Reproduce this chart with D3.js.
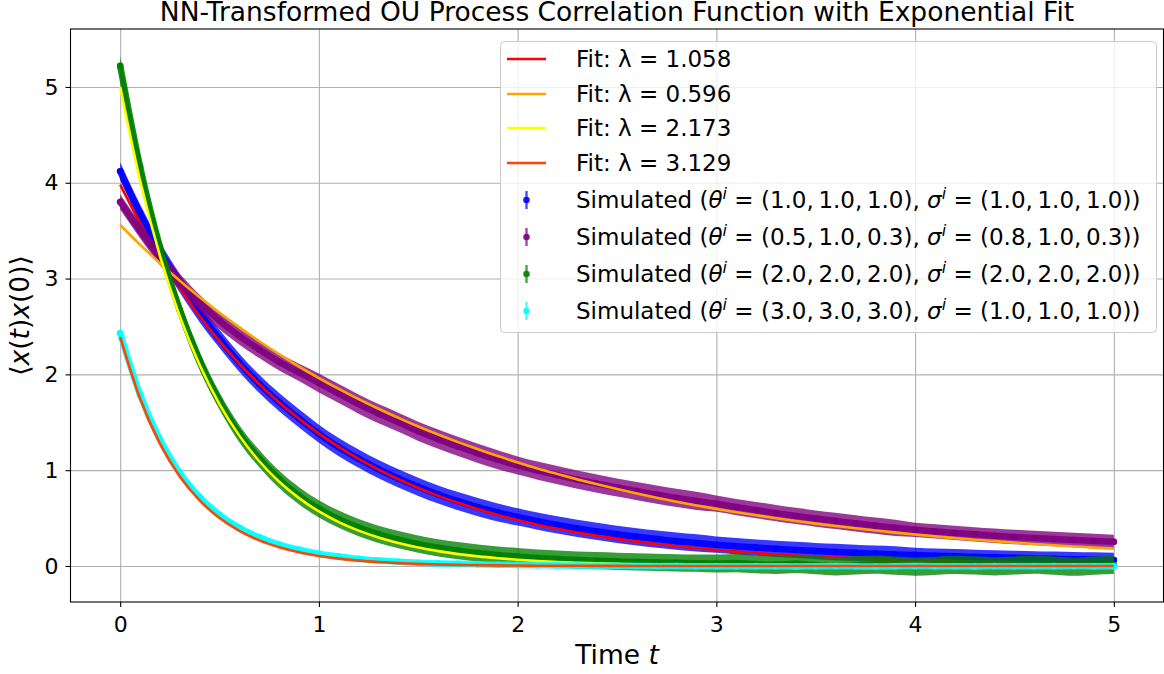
<!DOCTYPE html>
<html>
<head>
<meta charset="utf-8">
<script src="https://cdn.jsdelivr.net/npm/d3@7"></script>
<style>
  body { margin: 0; background: #fff; }
  svg { display: block; font-family: 'DejaVu Sans', sans-serif; }
</style>
</head>
<body>
<svg class="chart" width="1164" height="674"></svg>
<script>
// time grid (t)
const timeValues = [0, 0.1, 0.2, 0.3, 0.4, 0.5, 0.6, 0.7, 0.8, 0.9, 1.0, 1.1, 1.2, 1.3, 1.4, 1.5, 1.6, 1.7, 1.8, 1.9,
  2.0, 2.1, 2.2, 2.3, 2.4, 2.5, 2.6, 2.7, 2.8, 2.9, 3.0, 3.1, 3.2, 3.3, 3.4, 3.5, 3.6, 3.7, 3.8, 3.9,
  4.0, 4.1, 4.2, 4.3, 4.4, 4.5, 4.6, 4.7, 4.8, 4.9, 5.0];

// simulated correlation values
const blueSim = [4.12, 3.68, 3.29, 2.95, 2.64, 2.37, 2.12, 1.90, 1.71, 1.54, 1.38, 1.24, 1.12, 1.01, 0.914, 0.826, 0.746, 0.676, 0.614, 0.558,
  0.512, 0.468, 0.428, 0.392, 0.360, 0.331, 0.305, 0.281, 0.259, 0.240, 0.222, 0.206, 0.192, 0.179, 0.167, 0.156, 0.146, 0.137, 0.129, 0.121,
  0.114, 0.107, 0.101, 0.095, 0.090, 0.085, 0.080, 0.075, 0.071, 0.067, 0.063];
const purpleSim = [3.80, 3.50, 3.22, 2.97, 2.75, 2.56, 2.40, 2.26, 2.13, 2.02, 1.91, 1.80, 1.69, 1.59, 1.50, 1.405, 1.324, 1.248, 1.175, 1.109,
  1.049, 0.996, 0.948, 0.902, 0.859, 0.819, 0.781, 0.745, 0.711, 0.679, 0.650, 0.615, 0.583, 0.552, 0.522, 0.495, 0.470, 0.445, 0.421, 0.398,
  0.377, 0.361, 0.345, 0.330, 0.316, 0.303, 0.292, 0.281, 0.271, 0.261, 0.252];
const greenSim = [5.22, 4.17, 3.33, 2.67, 2.14, 1.72, 1.38, 1.12, 0.904, 0.733, 0.597, 0.488, 0.401, 0.330, 0.274, 0.228, 0.190, 0.159, 0.135, 0.114,
  0.098, 0.083, 0.072, 0.062, 0.055, 0.048, 0.042, 0.037, 0.033, 0.029, 0.026, 0.030, 0.018, 0.012, 0.022, 0.008, -0.004, 0.006, 0.015, 0.004,
  -0.006, 0.002, 0.012, 0.006, -0.004, 0.005, 0.014, 0.003, -0.008, 0.004, 0.010];
const cyanSim = [2.43, 1.79, 1.32, 0.973, 0.721, 0.535, 0.399, 0.299, 0.224, 0.169, 0.128, 0.098, 0.074, 0.057, 0.044, 0.034, 0.027, 0.022, 0.017, 0.014,
  0.011, 0.008, 0.006, 0.004, 0.002, 0.001, 0.000, -0.002, -0.001, -0.003, -0.002, -0.004, -0.002, -0.003, -0.005, -0.003, -0.002, -0.004, -0.006, -0.003,
  -0.002, -0.004, -0.003, -0.005, -0.002, -0.003, -0.004, -0.002, -0.003, -0.004, -0.002];

// error bar half-lengths
const blueErr = [0.095, 0.095, 0.095, 0.095, 0.095, 0.095, 0.095, 0.095, 0.095, 0.095, 0.095, 0.095, 0.095, 0.095, 0.095, 0.095, 0.095, 0.095, 0.095, 0.095,
  0.09, 0.09, 0.09, 0.09, 0.09, 0.09, 0.09, 0.09, 0.09, 0.09, 0.085, 0.085, 0.085, 0.085, 0.085, 0.085, 0.085, 0.085, 0.085, 0.085,
  0.075, 0.075, 0.075, 0.075, 0.075, 0.075, 0.075, 0.075, 0.075, 0.075, 0.075];
const purpleErr = [0.08, 0.08, 0.08, 0.08, 0.08, 0.09, 0.09, 0.09, 0.09, 0.09, 0.1, 0.1, 0.1, 0.1, 0.1, 0.1, 0.1, 0.1, 0.1, 0.1,
  0.095, 0.095, 0.095, 0.095, 0.095, 0.095, 0.095, 0.095, 0.095, 0.095, 0.085, 0.085, 0.085, 0.085, 0.085, 0.085, 0.085, 0.085, 0.085, 0.085,
  0.075, 0.075, 0.075, 0.075, 0.075, 0.075, 0.075, 0.075, 0.075, 0.075, 0.075];
const greenErr = [0.1, 0.1, 0.1, 0.1, 0.1, 0.09, 0.09, 0.09, 0.09, 0.09, 0.09, 0.09, 0.09, 0.09, 0.09, 0.09, 0.09, 0.09, 0.09, 0.09,
  0.09, 0.09, 0.09, 0.09, 0.09, 0.09, 0.09, 0.09, 0.09, 0.09, 0.095, 0.095, 0.095, 0.095, 0.095, 0.095, 0.095, 0.095, 0.095, 0.095,
  0.095, 0.095, 0.095, 0.095, 0.095, 0.095, 0.095, 0.095, 0.095, 0.095, 0.095];
const cyanErr = [0.03, 0.025, 0.025, 0.025, 0.025, 0.02, 0.02, 0.02, 0.02, 0.02, 0.015, 0.015, 0.015, 0.015, 0.015, 0.015, 0.015, 0.015, 0.015, 0.015,
  0.015, 0.015, 0.015, 0.015, 0.015, 0.015, 0.015, 0.015, 0.015, 0.015, 0.015, 0.015, 0.015, 0.015, 0.015, 0.015, 0.015, 0.015, 0.015, 0.015,
  0.015, 0.015, 0.015, 0.015, 0.015, 0.015, 0.015, 0.015, 0.015, 0.015, 0.015];

// exponential fit curves
const redFit = [3.980, 3.580, 3.221, 2.897, 2.606, 2.345, 2.109, 1.898, 1.707, 1.536, 1.381, 1.243, 1.118, 1.006, 0.905, 0.814, 0.732, 0.659, 0.593, 0.533,
  0.480, 0.431, 0.388, 0.349, 0.314, 0.283, 0.254, 0.229, 0.206, 0.185, 0.166, 0.150, 0.135, 0.121, 0.109, 0.098, 0.088, 0.079, 0.071, 0.064,
  0.058, 0.052, 0.047, 0.042, 0.038, 0.034, 0.031, 0.028, 0.025, 0.022, 0.020];
const orangeFit = [3.560, 3.354, 3.160, 2.977, 2.805, 2.643, 2.490, 2.346, 2.210, 2.082, 1.962, 1.848, 1.741, 1.641, 1.546, 1.456, 1.372, 1.293, 1.218, 1.147,
  1.081, 1.018, 0.960, 0.904, 0.852, 0.803, 0.756, 0.712, 0.671, 0.632, 0.596, 0.561, 0.529, 0.498, 0.469, 0.442, 0.417, 0.393, 0.370, 0.348,
  0.328, 0.309, 0.291, 0.274, 0.259, 0.244, 0.230, 0.216, 0.204, 0.192, 0.181];
const yellowFit = [5.000, 4.024, 3.238, 2.605, 2.097, 1.687, 1.358, 1.093, 0.879, 0.708, 0.569, 0.458, 0.369, 0.297, 0.239, 0.192, 0.155, 0.124, 0.100, 0.081,
  0.065, 0.052, 0.042, 0.034, 0.027, 0.022, 0.018, 0.014, 0.011, 0.009, 0.007, 0.006, 0.005, 0.004, 0.003, 0.002, 0.002, 0.002, 0.001, 0.001,
  0.001, 0.001, 0.001, 0, 0, 0, 0, 0, 0, 0, 0];
const orangeRedFit = [2.390, 1.748, 1.278, 0.935, 0.684, 0.500, 0.366, 0.267, 0.196, 0.143, 0.105, 0.077, 0.056, 0.041, 0.030, 0.022, 0.016, 0.012, 0.009, 0.006,
  0.005, 0.003, 0.003, 0.002, 0.001, 0.001, 0, 0, 0, 0, 0, 0, 0, 0, 0, 0, 0, 0, 0, 0,
  0, 0, 0, 0, 0, 0, 0, 0, 0, 0, 0];

const fitLambdas = ['1.058', '0.596', '2.173', '3.129'];
const thetaLabels = ['(1.0,\u20091.0,\u20091.0)', '(0.5,\u20091.0,\u20090.3)', '(2.0,\u20092.0,\u20092.0)', '(3.0,\u20093.0,\u20093.0)'];
const sigmaLabels = ['(1.0,\u20091.0,\u20091.0)', '(0.8,\u20091.0,\u20090.3)', '(2.0,\u20092.0,\u20092.0)', '(1.0,\u20091.0,\u20091.0)'];

const xTicks = [0, 1, 2, 3, 4, 5];
const yTicks = [0, 1, 2, 3, 4, 5];

const simColors = ['#0000ff', '#800080', '#008000', '#00ffff'];
const fitColors = ['#ff0000', '#ffa500', '#ffff00', '#ff4500'];

const simSeries = [blueSim, purpleSim, greenSim, cyanSim];
const errSeries = [blueErr, purpleErr, greenErr, cyanErr];
const fitSeries = [redFit, orangeFit, yellowFit, orangeRedFit];

const svg = d3.select('.chart');
const margin = { left: 70.5, top: 29, right: 0.5, bottom: 72 };
const width = +svg.attr('width') - margin.left - margin.right;
const height = +svg.attr('height') - margin.top - margin.bottom;

const x = d3.scaleLinear().domain([-0.25, 5.25]).range([0, width]);
const y = d3.scaleLinear().domain([-0.376, 5.605]).range([height, 0]);

const g = svg.append('g')
  .attr('transform', `translate(${margin.left},${margin.top})`);

// grid
const xGrid = g.append('g')
  .attr('transform', `translate(0,${height})`)
  .call(d3.axisBottom(x).tickValues(xTicks).tickSize(-height).tickFormat(''));
xGrid.select('.domain').remove();
xGrid.selectAll('line').attr('stroke', '#b0b0b0').attr('stroke-width', 1.1);

const yGrid = g.append('g')
  .call(d3.axisLeft(y).tickValues(yTicks).tickSize(-width).tickFormat(''));
yGrid.select('.domain').remove();
yGrid.selectAll('line').attr('stroke', '#b0b0b0').attr('stroke-width', 1.1);

const plot = g.append('g');

// each simulated series with its fit on top
simSeries.forEach((values, i) => {
  const pts = timeValues.map((t, k) => ({ t, v: values[k], e: errSeries[i][k] }));
  const color = simColors[i];

  const band = d3.area()
    .x(d => x(d.t))
    .y0(d => y(d.v - d.e))
    .y1(d => y(d.v + d.e))
    .curve(d3.curveMonotoneX);

  plot.append('path')
    .datum(pts)
    .attr('d', band)
    .attr('fill', color)
    .attr('opacity', 0.78);

  plot.append('path')
    .datum(pts)
    .attr('d', d3.line().x(d => x(d.t)).y(d => y(d.v)).curve(d3.curveMonotoneX))
    .attr('fill', 'none')
    .attr('stroke', color)
    .attr('stroke-width', 6.5)
    .attr('stroke-linecap', 'round')
    .attr('opacity', 0.9);

  plot.selectAll(null)
    .data(pts)
    .enter()
    .append('circle')
    .attr('cx', d => x(d.t))
    .attr('cy', d => y(d.v))
    .attr('r', 3.3)
    .attr('fill', color)
    .attr('opacity', 0.9);

  plot.append('path')
    .datum(timeValues.map((t, k) => ({ t, v: fitSeries[i][k] })))
    .attr('d', d3.line().x(d => x(d.t)).y(d => y(d.v)).curve(d3.curveMonotoneX))
    .attr('fill', 'none')
    .attr('stroke', fitColors[i])
    .attr('stroke-width', 2.6);
});

// axes
const xAxisG = g.append('g')
  .attr('transform', `translate(0,${height})`)
  .call(d3.axisBottom(x).tickValues(xTicks).tickFormat(d3.format('d')).tickSize(5).tickPadding(9));
xAxisG.select('.domain').remove();

const yAxisG = g.append('g')
  .call(d3.axisLeft(y).tickValues(yTicks).tickFormat(d3.format('d')).tickSize(5).tickPadding(7));
yAxisG.select('.domain').remove();

[xAxisG, yAxisG].forEach(a => {
  a.selectAll('line').attr('stroke', '#000').attr('stroke-width', 1.1);
  a.selectAll('text')
    .attr('fill', '#000')
    .style('font-family', 'DejaVu Sans')
    .style('font-size', '22px');
});

g.append('rect')
  .attr('width', width)
  .attr('height', height)
  .attr('fill', 'none')
  .attr('stroke', '#000')
  .attr('stroke-width', 1.1);

// title and labels
svg.append('text')
  .attr('x', margin.left + width / 2)
  .attr('y', 21)
  .attr('text-anchor', 'middle')
  .style('font-size', '26.5px')
  .text('NN-Transformed OU Process Correlation Function with Exponential Fit');

const xLabel = svg.append('text')
  .attr('x', margin.left + width / 2)
  .attr('y', 664)
  .attr('text-anchor', 'middle')
  .style('font-size', '26.5px');
xLabel.append('tspan').text('Time ');
xLabel.append('tspan').style('font-style', 'italic').text('t');

const yLabel = svg.append('text')
  .attr('transform', `translate(29,${margin.top + height / 2}) rotate(-90)`)
  .attr('text-anchor', 'middle')
  .style('font-size', '26.5px');
[['⟨', false], ['x', true], ['(', false], ['t', true], [')', false], ['x', true], ['(0)', false], ['⟩', false]]
  .forEach(([s, it]) => yLabel.append('tspan').style('font-style', it ? 'italic' : 'normal').text(s));

// legend
const legend = svg.append('g').style('font-size', '23px');
legend.append('rect')
  .attr('x', 500.5).attr('y', 41.5)
  .attr('width', 656).attr('height', 291)
  .attr('rx', 4)
  .attr('fill', '#fff').attr('fill-opacity', 0.8)
  .attr('stroke', '#cccccc');

const fitRowY = [59, 94, 128, 163];
const simRowY = [200, 237, 274, 311];

fitLambdas.forEach((lam, i) => {
  const cy = fitRowY[i];
  legend.append('line')
    .attr('x1', 507).attr('x2', 546)
    .attr('y1', cy).attr('y2', cy)
    .attr('stroke', fitColors[i]).attr('stroke-width', 2.6);
  legend.append('text')
    .attr('x', 576).attr('y', cy + 8)
    .text(`Fit: λ = ${lam}`);
});

simColors.forEach((color, i) => {
  const cy = simRowY[i];
  legend.append('line')
    .attr('x1', 526.5).attr('x2', 526.5)
    .attr('y1', cy - 9).attr('y2', cy + 9)
    .attr('stroke', color).attr('stroke-width', 2.4).attr('opacity', 0.7);
  legend.append('circle')
    .attr('cx', 526.5).attr('cy', cy).attr('r', 3.3)
    .attr('fill', color).attr('opacity', 0.9);
  const t = legend.append('text').attr('x', 576).attr('y', cy + 8);
  t.append('tspan').text('Simulated (');
  t.append('tspan').style('font-style', 'italic').text('θ');
  t.append('tspan').style('font-style', 'italic').style('font-size', '16px').attr('dy', -9).text('i');
  t.append('tspan').attr('dy', 9).text(` = ${thetaLabels[i]}, `);
  t.append('tspan').style('font-style', 'italic').text('σ');
  t.append('tspan').style('font-style', 'italic').style('font-size', '16px').attr('dy', -9).text('i');
  t.append('tspan').attr('dy', 9).text(` = ${sigmaLabels[i]})`);
});
</script>
</body>
</html>
